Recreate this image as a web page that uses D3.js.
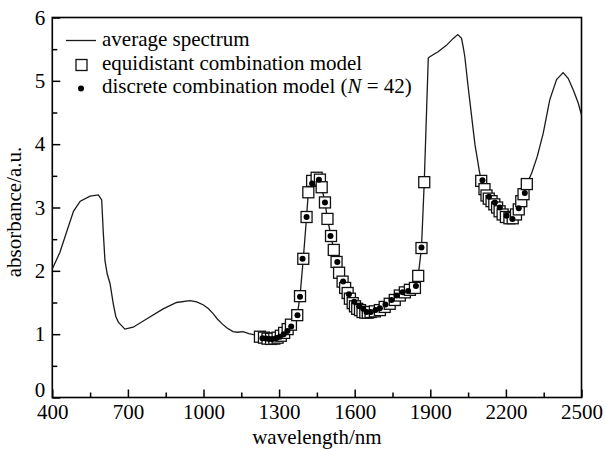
<!DOCTYPE html>
<html>
<head>
<meta charset="utf-8">
<script src="https://cdn.jsdelivr.net/npm/d3@7"></script>
<style>
    body { margin: 0; background: #fff; }
    text { font-family: "Liberation Serif", "DejaVu Serif", serif; fill: #000; }
</style>
</head>
<body>
<div id="chart"></div>
<script>
// average spectrum (wavelength nm / absorbance)
const specNm = [400, 430, 458, 484, 511, 550, 583, 596, 602, 609, 618, 629, 642, 652, 662, 688, 721, 774, 840, 893, 946, 973, 1000, 1020, 1039, 1055, 1072, 1092, 1117, 1135, 1157, 1180, 1203,
    1224, 1240, 1254, 1268, 1281, 1294, 1307, 1320, 1334, 1347, 1372, 1383, 1396, 1409, 1416, 1431, 1449, 1462, 1469, 1482, 1492, 1506, 1517, 1528, 1538, 1552, 1562, 1572, 1581, 1592, 1601, 1610, 1621, 1631, 1642, 1652, 1663, 1680, 1700, 1719, 1739, 1759, 1779, 1799, 1819, 1839, 1852, 1865, 1876,
    1892, 1898, 1931, 1964, 1991, 2009, 2024, 2032, 2037, 2050, 2064, 2077, 2094,
    2102, 2115, 2123, 2132, 2143, 2154, 2165, 2175, 2187, 2200, 2214, 2227, 2240, 2251, 2261, 2270, 2283,
    2302, 2324, 2348, 2374, 2401, 2427, 2447, 2467, 2487, 2500];
const specAbs = [2.03, 2.29, 2.63, 2.94, 3.10, 3.18, 3.20, 3.12, 2.63, 2.16, 1.95, 1.80, 1.48, 1.28, 1.19, 1.08, 1.11, 1.24, 1.40, 1.50, 1.53, 1.51, 1.46, 1.40, 1.32, 1.24, 1.17, 1.10, 1.04, 1.03, 1.04, 1.01, 0.99,
    0.96, 0.945, 0.93, 0.925, 0.93, 0.945, 0.975, 1.02, 1.08, 1.15, 1.30, 1.60, 2.19, 2.85, 3.24, 3.42, 3.47, 3.44, 3.32, 3.08, 2.82, 2.55, 2.33, 2.14, 1.97, 1.83, 1.73, 1.65, 1.56, 1.49, 1.44, 1.40, 1.38, 1.35, 1.34, 1.34, 1.35, 1.36, 1.38, 1.43, 1.48, 1.54, 1.61, 1.66, 1.70, 1.73, 1.92, 2.36, 3.40,
    5.36, 5.38, 5.46, 5.56, 5.67, 5.73, 5.67, 5.50, 5.38, 4.91, 4.44, 4.00, 3.59,
    3.42, 3.29, 3.19, 3.14, 3.10, 3.05, 3.00, 2.94, 2.89, 2.85, 2.83, 2.83, 2.89, 2.97, 3.10, 3.21, 3.37,
    3.54, 3.80, 4.17, 4.70, 5.02, 5.13, 5.04, 4.86, 4.65, 4.46];

// equidistant combination model
const eqNm = [1224, 1240, 1254, 1268, 1281, 1294, 1307, 1320, 1334, 1347, 1372, 1383, 1396, 1409, 1416, 1431, 1449, 1462, 1469, 1482, 1492, 1506, 1517, 1528, 1538, 1552, 1562, 1572, 1581, 1592, 1601, 1610, 1621, 1631, 1642, 1652, 1663, 1680, 1700, 1719, 1739, 1759, 1779, 1799, 1819, 1839, 1852, 1865, 1876,
    2102, 2115, 2123, 2132, 2143, 2154, 2165, 2175, 2187, 2200, 2214, 2227, 2240, 2251, 2261, 2270, 2283];
const eqAbs = [0.96, 0.945, 0.93, 0.925, 0.93, 0.945, 0.975, 1.02, 1.08, 1.15, 1.30, 1.60, 2.19, 2.85, 3.24, 3.42, 3.47, 3.44, 3.32, 3.08, 2.82, 2.55, 2.33, 2.14, 1.97, 1.83, 1.73, 1.65, 1.56, 1.49, 1.44, 1.40, 1.38, 1.35, 1.34, 1.34, 1.35, 1.36, 1.38, 1.43, 1.48, 1.54, 1.61, 1.66, 1.70, 1.73, 1.92, 2.36, 3.40,
    3.42, 3.29, 3.19, 3.14, 3.10, 3.05, 3.00, 2.94, 2.89, 2.85, 2.83, 2.83, 2.89, 2.97, 3.10, 3.21, 3.37];

// discrete combination model, N = 42
const dcNm = [1234, 1248, 1261, 1274, 1290, 1303, 1318, 1333, 1348,
    1373, 1383, 1393, 1409, 1431, 1458, 1482, 1504, 1531, 1554, 1577, 1598, 1618, 1634, 1647, 1664, 1683, 1700, 1722, 1746, 1766, 1790, 1812, 1843, 1865,
    2107, 2133, 2156, 2176, 2203, 2226, 2251, 2275];
const dcAbs = [0.935, 0.93, 0.925, 0.925, 0.94, 0.96, 1.0, 1.05, 1.12,
    1.30, 1.59, 2.19, 2.85, 3.38, 3.44, 3.08, 2.55, 2.14, 1.83, 1.63, 1.51, 1.44, 1.40, 1.35, 1.35, 1.38, 1.41, 1.47, 1.54, 1.61, 1.66, 1.68, 1.76, 2.37,
    3.43, 3.17, 3.08, 3.00, 2.87, 2.82, 2.99, 3.23];

const xTicks = [400, 700, 1000, 1300, 1600, 1900, 2200, 2500];
const xMinor = [550, 850, 1150, 1450, 1750, 2050, 2350];
const yTicks = [0, 1, 2, 3, 4, 5, 6];
const yMinor = [0.5, 1.5, 2.5, 3.5, 4.5, 5.5];

const legendLabels = ["average spectrum", "equidistant combination model", "discrete combination model ("];

const W = 606, H = 449;
const margin = { top: 17.5, right: 24.5, bottom: 51.5, left: 52.3 },
    width = W - margin.left - margin.right,
    height = H - margin.top - margin.bottom;

const x = d3.scaleLinear().domain([400, 2500]).range([0, width]);
const y = d3.scaleLinear().domain([0, 6]).range([height, 0]);

const svg = d3.select("#chart")
    .append("svg")
    .attr("width", W)
    .attr("height", H)
    .append("g")
    .attr("transform", "translate(" + margin.left + "," + margin.top + ")");

// axes, ticks pointing inward
svg.append("g")
    .attr("class", "axis-x")
    .attr("transform", "translate(0," + height + ")")
    .call(d3.axisBottom(x).tickValues(xTicks).tickSize(-8).tickSizeOuter(0).tickPadding(7).tickFormat(d3.format("d")));
svg.append("g")
    .attr("transform", "translate(0," + height + ")")
    .call(d3.axisBottom(x).tickValues(xMinor).tickSize(-5).tickSizeOuter(0).tickFormat(""));
svg.append("g")
    .attr("class", "axis-y")
    .call(d3.axisLeft(y).tickValues(yTicks).tickSize(-8).tickSizeOuter(0).tickPadding(7).tickFormat(d3.format("d")));
svg.append("g")
    .call(d3.axisLeft(y).tickValues(yMinor).tickSize(-5).tickSizeOuter(0).tickFormat(""));

svg.selectAll(".domain").remove();
svg.selectAll(".tick line").attr("stroke", "#000").attr("stroke-width", 1.5);
svg.selectAll(".tick text")
    .style("font-family", "'Liberation Serif', serif")
    .style("font-size", "21px")
    .attr("fill", "#000");

// the 0 sits just above the 400, as in the original
svg.selectAll(".axis-y .tick text")
    .filter(d => d == 0)
    .attr("dy", "-0.05em");

svg.append("rect")
    .attr("width", width)
    .attr("height", height)
    .attr("fill", "none")
    .attr("stroke", "#000")
    .attr("stroke-width", 1.6);

// axis titles
svg.append("text")
    .attr("x", width / 2)
    .attr("y", height + 46)
    .attr("text-anchor", "middle")
    .style("font-size", "21px")
    .text("wavelength/nm");

svg.append("text")
    .attr("transform", "translate(" + (21 - margin.left) + "," + (212 - margin.top) + ") rotate(-90)")
    .attr("text-anchor", "middle")
    .style("font-size", "21px")
    .text("absorbance/a.u.");

// spectrum line
const line = d3.line()
    .x((d, i) => x(specNm[i]))
    .y((d, i) => y(specAbs[i]));

svg.append("path")
    .datum(specNm)
    .attr("d", line)
    .attr("fill", "none")
    .attr("stroke", "#1a1a1a")
    .attr("stroke-width", 1.3);

// equidistant squares
const sq = 11;
svg.append("g")
    .selectAll("rect")
    .data(eqNm)
    .enter()
    .append("rect")
    .attr("x", (d, i) => x(d) - sq / 2)
    .attr("y", (d, i) => y(eqAbs[i]) - sq / 2)
    .attr("width", sq)
    .attr("height", sq)
    .attr("fill", "#fff")
    .attr("stroke", "#111")
    .attr("stroke-width", 1.3);

// discrete dots
svg.append("g")
    .selectAll("circle")
    .data(dcNm)
    .enter()
    .append("circle")
    .attr("cx", d => x(d))
    .attr("cy", (d, i) => y(dcAbs[i]))
    .attr("r", 3)
    .attr("fill", "#000");

// legend
const legend = d3.select("svg").append("g");

legend.append("line")
    .attr("x1", 66).attr("x2", 96)
    .attr("y1", 40.5).attr("y2", 40.5)
    .attr("stroke", "#1a1a1a")
    .attr("stroke-width", 1.3);
legend.append("rect")
    .attr("x", 76).attr("y", 59.5)
    .attr("width", sq).attr("height", sq)
    .attr("fill", "#fff")
    .attr("stroke", "#111")
    .attr("stroke-width", 1.3);
legend.append("circle")
    .attr("cx", 81).attr("cy", 88.5)
    .attr("r", 3)
    .attr("fill", "#000");

const legendY = [46, 70, 93];
legendLabels.forEach((t, i) => {
    const tx = legend.append("text")
        .attr("x", 102)
        .attr("y", legendY[i])
        .style("font-size", "21px")
        .text(t);
    if (i == 2) {
        tx.append("tspan").style("font-style", "italic").text("N");
        tx.append("tspan").text(" = 42)");
    }
});
</script>
</body>
</html>
